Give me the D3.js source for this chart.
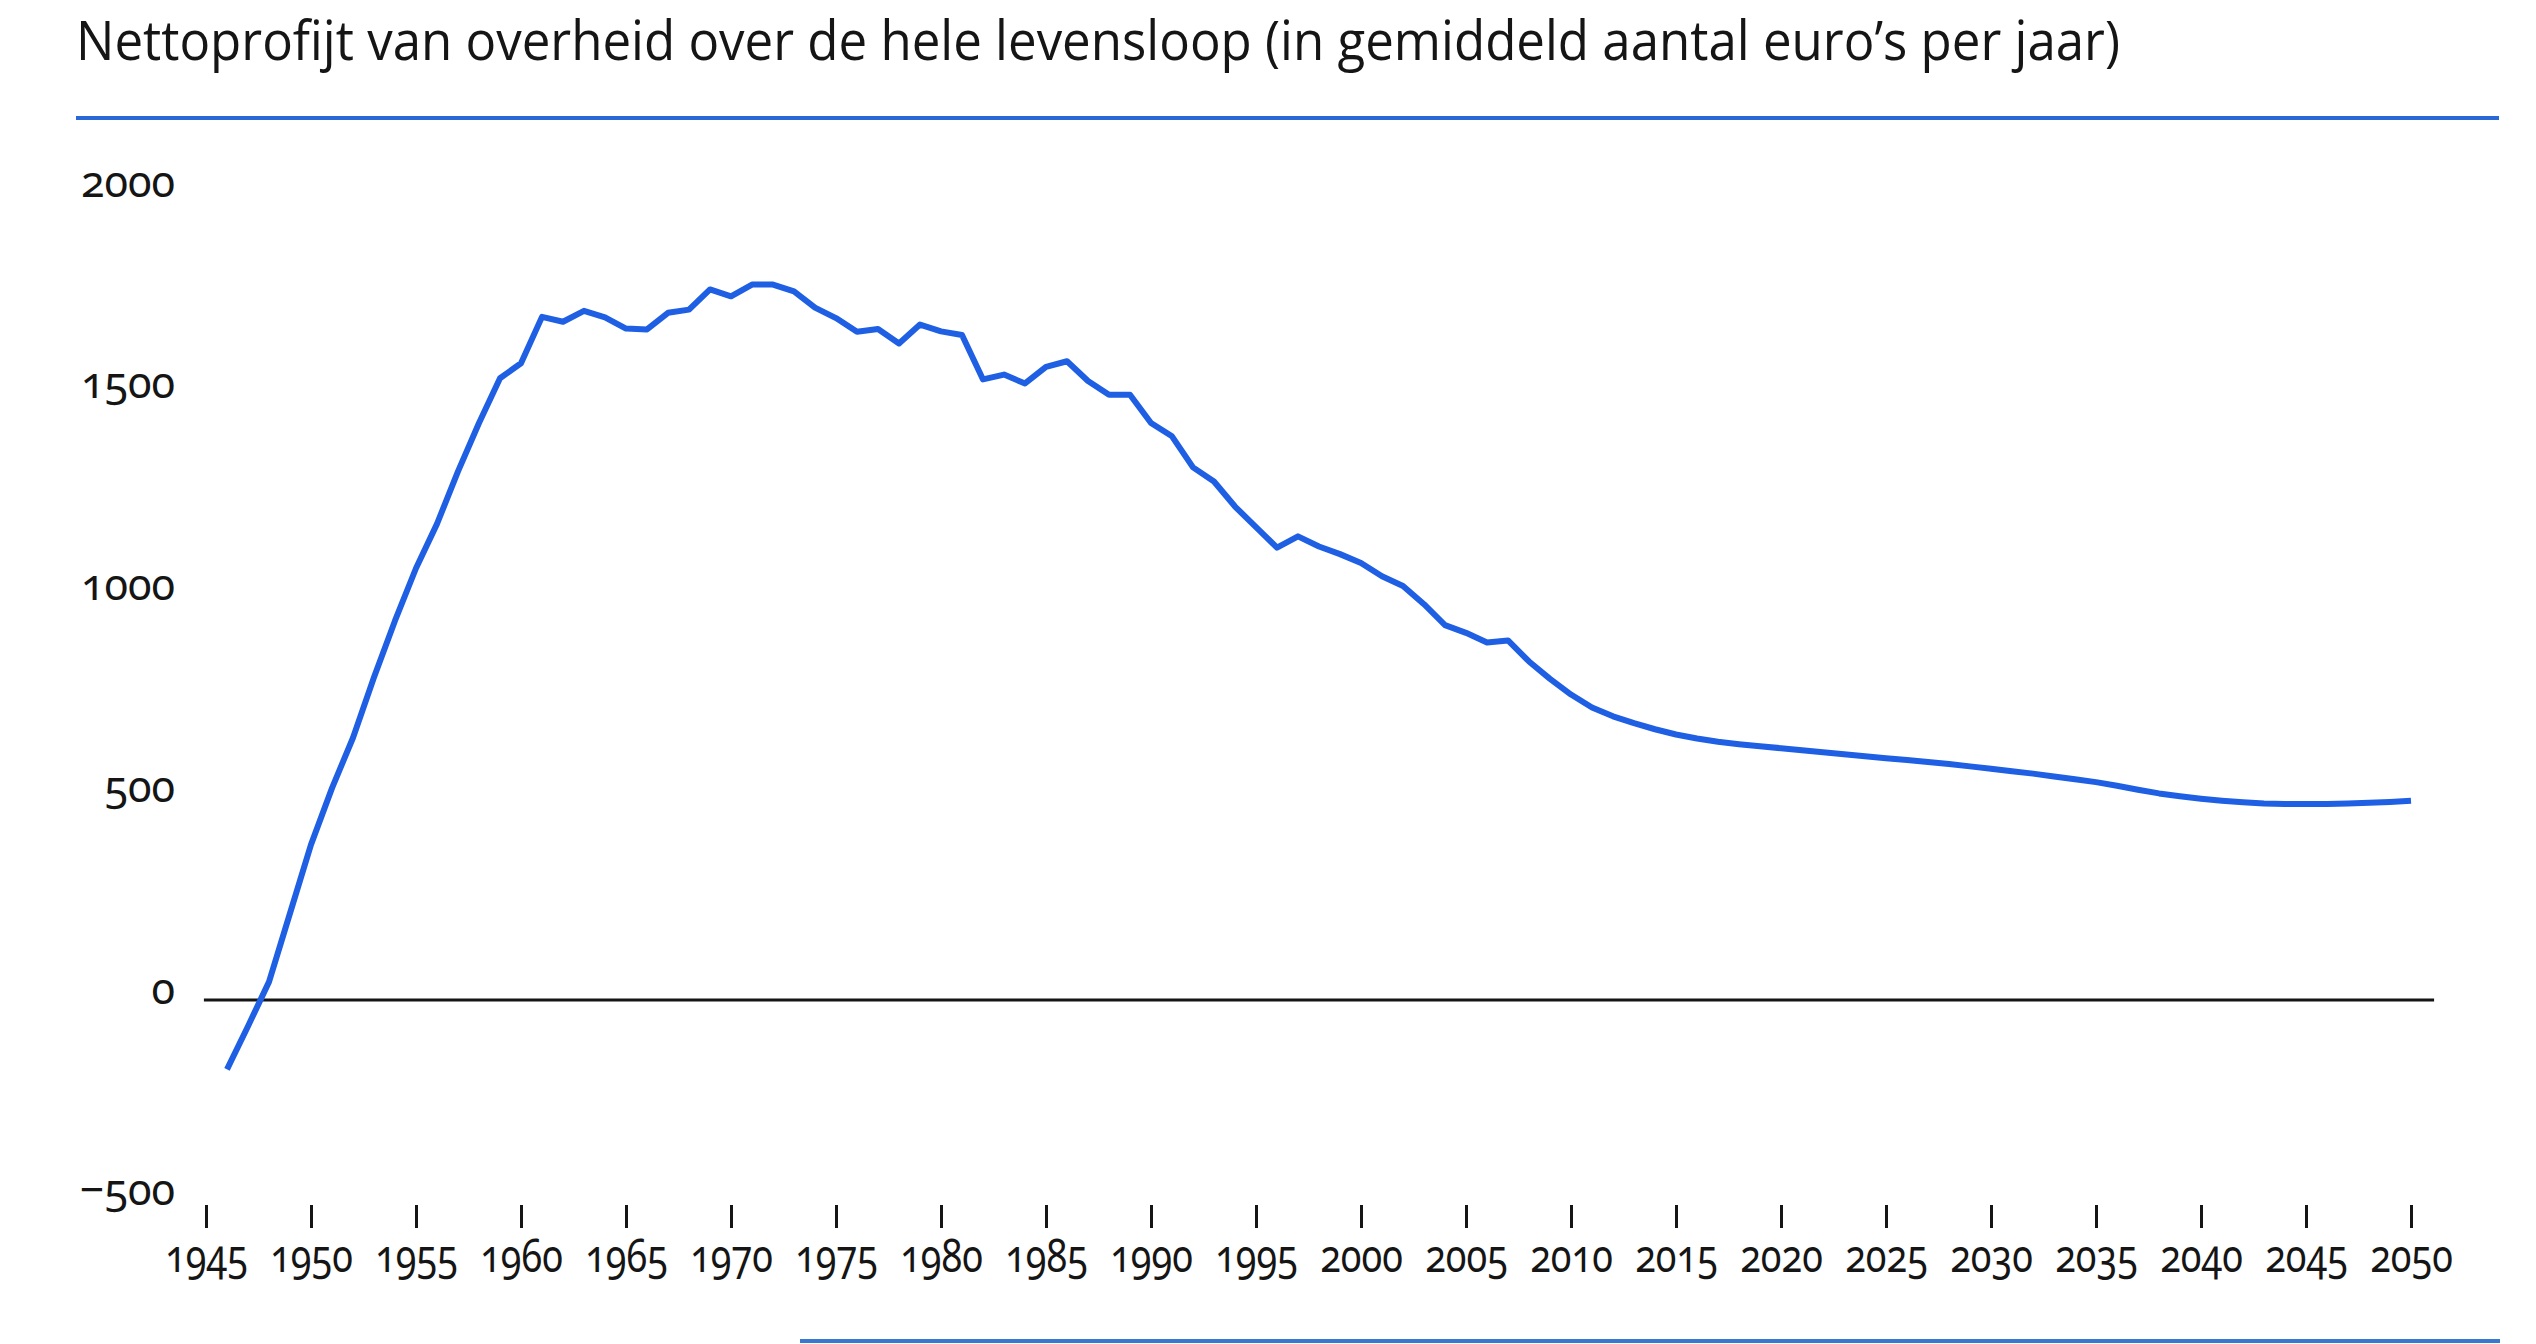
<!DOCTYPE html>
<html>
<head>
<meta charset="utf-8">
<script src="https://cdn.jsdelivr.net/npm/d3@7"></script>
<style>
  html, body { margin: 0; padding: 0; background: #ffffff; }
  svg { display: block; }
</style>
</head>
<body>
<svg id="chart" width="2536" height="1344"></svg>
<script>
// ---- data ----
const titleText = "Nettoprofijt van overheid over de hele levensloop (in gemiddeld aantal euro’s per jaar)";
const years = d3.range(1946, 2051);
const values = [
  -172, -65, 45, 215, 385, 525, 650, 800, 940, 1070,          // 1946-1955
  1180, 1310, 1430, 1541, 1578, 1693, 1681, 1708, 1692, 1664, // 1956-1965
  1662, 1703, 1711, 1761, 1744, 1773, 1773, 1756, 1716, 1690, // 1966-1975
  1656, 1663, 1627, 1674, 1657, 1648, 1538, 1550, 1528, 1569, // 1976-1985
  1583, 1534, 1500, 1500, 1430, 1397, 1320, 1285, 1223, 1172, // 1986-1995
  1121, 1149, 1124, 1105, 1083, 1050, 1026, 981, 929, 910,    // 1996-2005
  886, 891, 839, 796, 757, 725, 703, 686, 671, 658,           // 2006-2015
  648, 640, 634, 629, 624, 619, 614, 609, 604, 599,           // 2016-2025
  595, 590, 585, 579, 573, 567, 561, 554, 547, 540,           // 2026-2035
  531, 521, 512, 505, 499, 494, 490, 487, 486, 486,           // 2036-2045
  486, 487, 489, 491, 494                                     // 2046-2050
];
const xTickValues = d3.range(1945, 2051, 5);
const yTickValues = [-500, 0, 500, 1000, 1500, 2000];
const xDomain = [1945, 2050];
const yDomain = [-500, 2000];
const zeroLineYears = [1944.9, 2051.1];

// ---- layout ----
const svg = d3.select("#chart");
const x = d3.scaleLinear().domain(xDomain).range([206, 2411]);
const y = d3.scaleLinear().domain(yDomain).range([1201.75, 193]);

// title
svg.append("text")
  .attr("x", 76).attr("y", 60)
  .attr("font-family", "'Open Sans', 'Noto Sans', sans-serif")
  .attr("font-size", 54)
  .attr("fill", "#151515")
  .attr("textLength", 2044)
  .attr("lengthAdjust", "spacingAndGlyphs")
  .text(titleText);

// blue rules
svg.append("line")
  .attr("x1", 76).attr("x2", 2499).attr("y1", 118).attr("y2", 118)
  .attr("stroke", "#2a68d6").attr("stroke-width", 4);
svg.append("line")
  .attr("x1", 800).attr("x2", 2500).attr("y1", 1341).attr("y2", 1341)
  .attr("stroke", "#3a78d0").attr("stroke-width", 4);

// y axis labels
const yAxis = d3.axisLeft(y).tickValues(yTickValues).tickFormat(d3.format("d"))
  .tickSize(0).tickPadding(0);
const gy = svg.append("g").attr("transform", "translate(175,0)").call(yAxis);
gy.select(".domain").remove();
gy.selectAll("text")
  .attr("dy", "3px")
  .attr("font-family", "'Noto Sans', 'Open Sans', sans-serif")
  .attr("font-size", 43)
  .style("font-variant-numeric", "oldstyle-nums")
  .attr("fill", "#151515");

// x axis
const xAxis = d3.axisBottom(x).tickValues(xTickValues).tickFormat(d3.format("d"))
  .tickSize(23).tickPadding(12);
const gx = svg.append("g").attr("transform", "translate(0,1205)").call(xAxis);
gx.select(".domain").remove();
gx.selectAll(".tick line").attr("stroke", "#151515").attr("stroke-width", 3);
gx.selectAll("text")
  .attr("font-family", "'Noto Sans', 'Open Sans', sans-serif")
  .attr("font-size", 45)
  .attr("transform", "scale(0.84,1)")
  .style("font-variant-numeric", "oldstyle-nums")
  .attr("fill", "#151515");

// zero line
svg.append("line")
  .attr("x1", x(zeroLineYears[0])).attr("x2", x(zeroLineYears[1]))
  .attr("y1", y(0)).attr("y2", y(0))
  .attr("stroke", "#151515").attr("stroke-width", 3);

// data line
const data = years.map((yr, i) => ({ year: yr, value: values[i] }));
const line = d3.line().x(d => x(d.year)).y(d => y(d.value));
svg.append("path")
  .datum(data)
  .attr("d", line)
  .attr("fill", "none")
  .attr("stroke", "#1f5fe3")
  .attr("stroke-width", 6)
  .attr("stroke-linejoin", "round")
  .attr("stroke-linecap", "butt");
</script>
</body>
</html>
